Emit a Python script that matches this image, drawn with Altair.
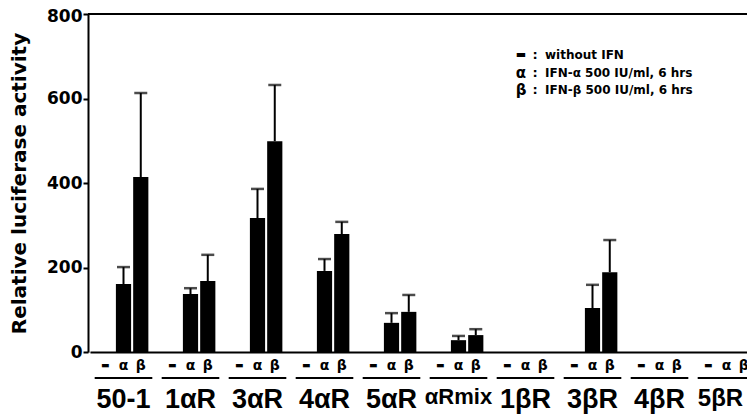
import altair as alt
import pandas as pd

groups = ["50-1", "1αR", "3αR", "4αR", "5αR", "αRmix", "1βR", "3βR", "4βR", "5βR"]
treatments = ["-", "α", "β"]
without_ifn = [0, 0, 0, 0, 0, 0, 0, 0, 0, 0]
without_sd = [0, 0, 0, 0, 0, 0, 0, 0, 0, 0]
ifn_alpha = [161, 137, 317, 192, 69, 28, 0, 104, 0, 0]
ifn_alpha_sd = [40, 14, 69, 28, 23, 10, 0, 55, 0, 0]
ifn_beta = [414, 168, 499, 279, 95, 40, 0, 189, 0, 0]
ifn_beta_sd = [199, 62, 133, 29, 40, 14, 0, 76, 0, 0]

legend_symbols = ["▬", "α", "β"]
legend_texts = ["without IFN", "IFN-α 500 IU/ml, 6 hrs", "IFN-β 500 IU/ml, 6 hrs"]

rows = []
for vals, sds, t in [(without_ifn, without_sd, "-"), (ifn_alpha, ifn_alpha_sd, "α"), (ifn_beta, ifn_beta_sd, "β")]:
    for g, v, s in zip(groups, vals, sds):
        rows.append({"group": g, "treatment": t, "value": v, "top": v + s, "sd": s})
df = pd.DataFrame(rows)

W, H = 659, 338
BOLD_WIDE = "DejaVu Sans"
BOLD_ARIAL = "Liberation Sans"

x_enc = alt.X("group:N", sort=groups,
              scale=alt.Scale(domain=groups, range=[2, 672], paddingInner=0, paddingOuter=0),
              axis=alt.Axis(title=None, labelAngle=0, ticks=False, domain=True, domainWidth=2,
                            domainColor="black", labelPadding=34,
                            labelFontSize={"condition": [
                                {"test": "datum.label == 'αRmix'", "value": 22},
                                {"test": "datum.label == '5βR'", "value": 24}],
                                "value": 27},
                            labelOffset={"condition": {"test": "datum.label == '5βR'", "value": -6},
                                         "value": 0},
                            labelFont=BOLD_ARIAL, labelFontWeight="bold", labelColor="black",
                            labelBaseline="top"))
xo_enc = alt.XOffset("treatment:N", sort=treatments,
                     scale=alt.Scale(domain=treatments, paddingInner=0.12, paddingOuter=0.5))
y_scale = alt.Scale(domain=[0, 800], nice=False, zero=True)

base = alt.Chart(df)

bars = base.mark_bar(color="black").encode(
    x=x_enc,
    xOffset=xo_enc,
    y=alt.Y("value:Q", scale=y_scale,
            axis=alt.Axis(values=[0, 200, 400, 600, 800], title="Relative luciferase activity",
                          grid=False, tickSize=5, tickWidth=2, tickColor="black",
                          domainWidth=2, domainColor="black", labelPadding=1,
                          labelOffset={"condition": {"test": "datum.value == 800", "value": 2},
                                       "value": 0},
                          labelFont=BOLD_WIDE, labelFontWeight="bold", labelFontSize=17,
                          labelColor="black", titleFont=BOLD_WIDE, titleFontWeight="bold",
                          titleFontSize=20, titleColor="black", titleX=-63, titleY=H / 2,
                          titleAngle=270, titleBaseline="alphabetic", titleAlign="center")),
)

err_df = df[df["sd"] > 0]
err_line = alt.Chart(err_df).mark_rule(color="black", strokeWidth=2).encode(
    x=alt.X("group:N", sort=groups), xOffset=xo_enc,
    y=alt.Y("value:Q"), y2="top:Q",
)
err_cap = alt.Chart(err_df).mark_tick(color="black", size=13, thickness=2.5).encode(
    x=alt.X("group:N", sort=groups), xOffset=xo_enc,
    y=alt.Y("top:Q"),
)

top_line = alt.Chart(pd.DataFrame({"v": [800]})).mark_rule(color="black", strokeWidth=2).encode(
    y=alt.Y("v:Q"), x=alt.value(0), x2=alt.value(W + 20),
)

sym_greek = base.transform_filter("datum.treatment != '-'").mark_text(
    font=BOLD_WIDE, fontWeight="bold", fontSize=14, color="black",
    baseline="middle", align="center").encode(
    x=alt.X("group:N", sort=groups), xOffset=xo_enc,
    y=alt.value(H + 14), text="treatment:N",
)
sym_dash = base.transform_filter("datum.treatment == '-'").mark_text(
    font=BOLD_WIDE, fontWeight="bold", fontSize=9, color="black",
    baseline="middle", align="center", dx=-1).encode(
    x=alt.X("group:N", sort=groups), xOffset=xo_enc,
    y=alt.value(H + 13), text=alt.value("▬"),
)

underline = alt.Chart(pd.DataFrame({"group": groups})).mark_bar(
    color="black", width={"band": 0.86}).encode(
    x=alt.X("group:N", sort=groups), y=alt.value(H + 25), y2=alt.value(H + 27),
)

layers = [bars, err_line, err_cap, top_line, sym_greek, sym_dash, underline]
legend_y = [41, 59, 76]
legend_sym_size = [11, 15, 15]
for s, t, yy, fs in zip(legend_symbols, legend_texts, legend_y, legend_sym_size):
    d = pd.DataFrame({"s": [s], "t": [t]})
    layers.append(alt.Chart(d).mark_text(font=BOLD_WIDE, fontWeight="bold", fontSize=fs,
                                         color="black", baseline="middle", align="center").encode(
        x=alt.value(433), y=alt.value(yy), text="s:N"))
    layers.append(alt.Chart(d).mark_text(font=BOLD_WIDE, fontWeight="bold", fontSize=13,
                                         color="black", baseline="middle", align="center").encode(
        x=alt.value(447), y=alt.value(yy), text=alt.value(":")))
    layers.append(alt.Chart(d).mark_text(font=BOLD_WIDE, fontWeight="bold", fontSize=12,
                                         color="black", baseline="middle", align="left").encode(
        x=alt.value(457), y=alt.value(yy), text="t:N"))

chart = alt.layer(*layers).properties(
    width=W, height=H,
    autosize=alt.AutoSizeParams(type="none"),
    padding={"left": 80, "top": 6, "right": 0, "bottom": 62},
).configure_view(stroke=None).configure(background="white")

chart.save("out.html", embed_options={"renderer": "svg", "actions": False})
